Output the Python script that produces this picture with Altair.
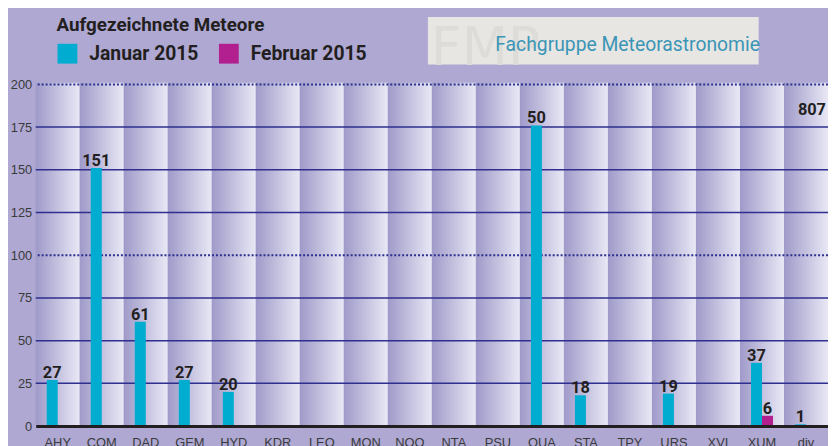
import altair as alt
import pandas as pd

# ---------------- data ----------------
categories = ["AHY", "COM", "DAD", "GEM", "HYD", "KDR", "LEO", "MON", "NOO",
              "NTA", "PSU", "QUA", "STA", "TPY", "URS", "XVI", "XUM", "div"]
januar = [27, 151, 61, 27, 20, 0, 0, 0, 0, 0, 0, 176, 18, 0, 19, 0, 37, 1]
februar = [0, 0, 0, 0, 0, 0, 0, 0, 0, 0, 0, 0, 0, 0, 0, 0, 6, 0]
januar_labels = ["27", "151", "61", "27", "20", "", "", "", "", "", "", "50",
                 "18", "", "19", "", "37", "1"]
februar_labels = ["", "", "", "", "", "", "", "", "", "", "", "", "", "", "",
                  "", "6", ""]
series = ["Januar 2015", "Februar 2015"]
series_colors = ["#00acd0", "#b21f8f"]
total_category = ["div"]
total_value = [182]
total_label = ["807"]
y_ticks = [0, 25, 50, 75, 100, 125, 150, 175, 200]
grid_solid = [25, 50, 75, 125, 150, 175]
grid_dotted = [100, 200]

# ---------------- tables ----------------
rows = []
for i, c in enumerate(categories):
    rows.append({"cat": c, "series": series[0], "value": januar[i], "label": januar_labels[i]})
    rows.append({"cat": c, "series": series[1], "value": februar[i], "label": februar_labels[i]})
df = pd.DataFrame(rows)
df_lab = df[df["label"] != ""]
df_cats = pd.DataFrame({"cat": categories})
df_solid = pd.DataFrame({"v": grid_solid})
df_dot = pd.DataFrame({"v": grid_dotted})
df_total = pd.DataFrame({"cat": total_category, "value": total_value, "label": total_label})
one = alt.Data(values=[{}])

BOLD = "Roboto, Liberation Sans, sans-serif"
REG = "Liberation Sans, Arial, sans-serif"
INK = "#231f20"
NAVY = "#2e2f8e"

xscale = alt.Scale(domain=categories, paddingInner=0, paddingOuter=0)
xaxis = alt.Axis(title=None, labelAngle=0, ticks=False, domain=True,
                 domainColor=INK, domainWidth=3, labelFont=REG, labelFontSize=13,
                 labelColor="#3a3a3a", labelPadding=11, labelBaseline="top")
yscale = alt.Scale(domain=[0, 200], nice=False, zero=True)
yaxis = alt.Axis(title=None, values=y_ticks, domain=False, ticks=False, grid=False,
                 labelFont=REG, labelFontSize=13, labelColor="#3a3a3a", labelPadding=4)

X = alt.X("cat:N", sort=categories, scale=xscale, axis=xaxis)
XO = alt.XOffset("series:N", sort=series,
                 scale=alt.Scale(domain=series, paddingInner=0, paddingOuter=1.0))

band_grad = alt.LinearGradient(
    gradient="linear", x1=0, x2=1, y1=0, y2=0,
    stops=[alt.GradientStop(color="#9f9ac9", offset=0),
           alt.GradientStop(color="#e9e8f5", offset=1)])

bands = alt.Chart(df_cats).mark_rect(fill=band_grad, stroke=None).encode(
    x=X,
    y=alt.Y(datum=201, type="quantitative", scale=yscale, axis=yaxis),
    y2=alt.Y2(datum=0),
)

rules_solid = alt.Chart(df_solid).mark_rule(color=NAVY, strokeWidth=1.5).encode(
    y=alt.Y("v:Q", scale=yscale, axis=yaxis))
rules_dot = alt.Chart(df_dot).mark_rule(color=NAVY, strokeWidth=2, strokeDash=[2, 2]).encode(
    y=alt.Y("v:Q", scale=yscale, axis=yaxis))

bars = alt.Chart(df).mark_bar(stroke=None).encode(
    x=X, xOffset=XO,
    y=alt.Y("value:Q", scale=yscale, axis=yaxis),
    color=alt.Color("series:N", sort=series,
                    scale=alt.Scale(domain=series, range=series_colors),
                    legend=alt.Legend(title=None, orient="none", direction="horizontal",
                                      legendX=22, legendY=-41, padding=0,
                                      symbolType="square", symbolSize=400,
                                      symbolStrokeWidth=0, symbolOpacity=1,
                                      labelFont=BOLD, labelFontSize=19.5,
                                      labelFontWeight="bold", labelColor=INK,
                                      labelOffset=12, columnPadding=20,
                                      labelLimit=300)),
)

labels = alt.Chart(df_lab).mark_text(font=BOLD, fontSize=16.5, fontWeight="bold",
                                     color=INK, baseline="alphabetic", dy=-2).encode(
    x=X, xOffset=XO,
    y=alt.Y("value:Q", scale=yscale, axis=yaxis),
    text="label:N")

total = alt.Chart(df_total).mark_text(font=BOLD, fontSize=16.5, fontWeight="bold",
                                      color=INK, baseline="alphabetic", dx=6).encode(
    x=X, y=alt.Y("value:Q", scale=yscale, axis=yaxis), text="label:N")

title = alt.Chart(one).mark_text(font=BOLD, fontSize=19, fontWeight="bold", color=INK,
                                 align="left", baseline="alphabetic").encode(
    x=alt.value(21), y=alt.value(-54), text=alt.value("Aufgezeichnete Meteore"))

logo_box = alt.Chart(one).mark_rect(color="#e7e6e3").encode(
    x=alt.value(396), x2=alt.value(730), y=alt.value(-68), y2=alt.value(-20))
logo_fmp = alt.Chart(one).mark_text(font="DejaVu Sans", fontSize=54, color="#dddcd9",
                                    align="left", baseline="alphabetic").encode(
    x=alt.value(399), y=alt.value(-20), text=alt.value("FMP"))
logo_txt = alt.Chart(one).mark_text(font="Roboto, Liberation Sans, sans-serif", fontSize=19.5,
                                    color="#3b95b6", align="left",
                                    baseline="alphabetic").encode(
    x=alt.value(464), y=alt.value(-34), text=alt.value("Fachgruppe Meteorastronomie"))

chart = alt.layer(bands, rules_solid, rules_dot, bars, labels, total,
                  title, logo_box, logo_fmp, logo_txt).properties(
    width=800, height=345,
    autosize=alt.AutoSizeParams(type="none"),
    padding={"left": 28, "top": 75, "right": 0, "bottom": 18},
    background="#aea8d3",
).configure_view(stroke=None)

chart.save("out.html", embed_options={"renderer": "svg", "actions": False})
